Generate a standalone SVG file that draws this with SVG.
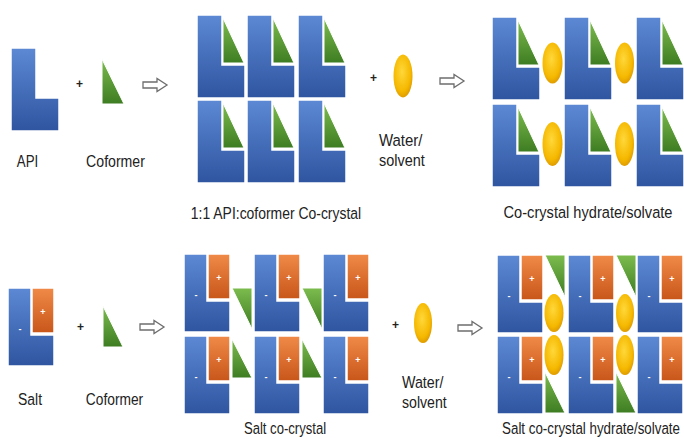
<svg xmlns="http://www.w3.org/2000/svg" xmlns:xlink="http://www.w3.org/1999/xlink" width="684" height="439" viewBox="0 0 684 439">
<style>
  .lbl { font-family: "Liberation Sans", Arial, sans-serif; font-size: 17px; fill: #222; }
  .mid { text-anchor: middle; }
  .plus { font-family: "Liberation Sans", Arial, sans-serif; font-size: 12px; fill: #222; font-weight: bold; }
  .sign { font-family: "Liberation Sans", Arial, sans-serif; font-size: 9px; fill: #fff; font-weight: bold; text-anchor: middle; }
  .blue { fill: url(#gBlue); stroke: #fff; stroke-width: 1.5; }
  .green { fill: url(#gGreen); stroke: #fff; stroke-width: 1; }
  .orange { fill: url(#gOrange); stroke: #fff; stroke-width: 1.5; }
  .drop { fill: url(#gYellow); }
  .arrow { fill: #fff; stroke: #6e6e6e; stroke-width: 1.3; }
</style>
<defs>
  <linearGradient id="gBlue" x1="0" y1="0" x2="0" y2="1">
    <stop offset="0" stop-color="#5c88d4"/>
    <stop offset="1" stop-color="#2f55a0"/>
  </linearGradient>
  <linearGradient id="gGreen" x1="0" y1="0" x2="0" y2="1">
    <stop offset="0" stop-color="#7cbc4e"/>
    <stop offset="1" stop-color="#3e7c22"/>
  </linearGradient>
  <linearGradient id="gOrange" x1="0" y1="0" x2="0" y2="1">
    <stop offset="0" stop-color="#f08a48"/>
    <stop offset="1" stop-color="#c8561a"/>
  </linearGradient>
  <radialGradient id="gYellow" cx="0.45" cy="0.4" r="0.65">
    <stop offset="0" stop-color="#ffd83a"/>
    <stop offset="0.7" stop-color="#f5b800"/>
    <stop offset="1" stop-color="#d99400"/>
  </radialGradient>
  <path id="lshape" class="blue" d="M0,0 H25 V50 H48 V83 H0 Z"/>
  <g id="cc-tile">
    <path class="blue" d="M0,0 H25 V50 H48 V83 H0 Z"/>
    <path class="green" d="M26,3 V48 H47 Z"/>
  </g>
  <g id="salt-tile">
    <path class="blue" d="M0,0 H23 V47 H46 V78 H0 Z"/>
    <rect class="orange" x="24" y="0" width="22" height="45"/>
    <text class="sign" x="12" y="44">-</text>
    <text class="sign" x="35" y="27">+</text>
  </g>
  <path id="arr" class="arrow" d="M0,-3 H14 V-6.5 L24,0 L14,6.5 V3 H0 Z"/>
</defs>

<g id="api">
  <use xlink:href="#lshape" x="11" y="48"/>
  <text class="lbl mid" transform="translate(27.5,167) scale(0.78,1)">API</text>
</g>
<g id="plus1"><text class="plus" x="76" y="88">+</text></g>
<g id="coformer-top">
  <path class="green" d="M102,59 V104 H124 Z"/>
  <text class="lbl mid" transform="translate(115.5,167) scale(0.83,1)">Coformer</text>
</g>

<g id="cocrystal">
  <use xlink:href="#cc-tile" x="197" y="15"/>
  <use xlink:href="#cc-tile" x="247" y="15"/>
  <use xlink:href="#cc-tile" x="298" y="15"/>
  <use xlink:href="#cc-tile" x="197" y="100"/>
  <use xlink:href="#cc-tile" x="247" y="100"/>
  <use xlink:href="#cc-tile" x="298" y="100"/>
  <text class="lbl mid" transform="translate(276,219) scale(0.82,1)">1:1 API:coformer Co-crystal</text>
</g>
<g id="plus2"><text class="plus" x="370" y="82">+</text></g>
<g id="water-top">
  <ellipse class="drop" cx="403" cy="76" rx="9.5" ry="21.5"/>
  <text class="lbl" transform="translate(379,146) scale(0.88,1)">Water/</text>
  <text class="lbl" transform="translate(379,166) scale(0.85,1)">solvent</text>
</g>

<g id="cocrystal-hydrate">
  <use xlink:href="#cc-tile" x="492" y="17"/>
  <use xlink:href="#cc-tile" x="564" y="17"/>
  <use xlink:href="#cc-tile" x="636" y="17"/>
  <use xlink:href="#cc-tile" x="492" y="104"/>
  <use xlink:href="#cc-tile" x="564" y="104"/>
  <use xlink:href="#cc-tile" x="636" y="104"/>
  <ellipse class="drop" cx="552.5" cy="63" rx="10" ry="20.5"/>
  <ellipse class="drop" cx="624.5" cy="63" rx="9.5" ry="20.5"/>
  <ellipse class="drop" cx="552.5" cy="144" rx="10" ry="22"/>
  <ellipse class="drop" cx="624.5" cy="144" rx="9.5" ry="22"/>
  <text class="lbl mid" transform="translate(588,218) scale(0.86,1)">Co-crystal hydrate/solvate</text>
</g>

<g id="salt">
  <use xlink:href="#salt-tile" x="8" y="288"/>
  <text class="lbl mid" transform="translate(30,405) scale(0.82,1)">Salt</text>
</g>
<g id="plus3"><text class="plus" x="77" y="331">+</text></g>
<g id="coformer-bottom">
  <path class="green" d="M103,306 V347 H123 Z"/>
  <text class="lbl mid" transform="translate(114.5,405) scale(0.81,1)">Coformer</text>
</g>

<g id="salt-cocrystal">
  <use xlink:href="#salt-tile" x="184" y="254"/>
  <use xlink:href="#salt-tile" x="254" y="254"/>
  <use xlink:href="#salt-tile" x="323" y="254"/>
  <use xlink:href="#salt-tile" x="184" y="336"/>
  <use xlink:href="#salt-tile" x="254" y="336"/>
  <use xlink:href="#salt-tile" x="323" y="336"/>
  <path class="green" d="M232,288 H252 V329 Z"/>
  <path class="green" d="M302,288 H322 V329 Z"/>
  <path class="green" d="M232,339 V378 H252 Z"/>
  <path class="green" d="M302,339 V378 H322 Z"/>
  <text class="lbl mid" transform="translate(285,434) scale(0.77,1)">Salt co-crystal</text>
</g>
<g id="plus4"><text class="plus" x="392" y="329">+</text></g>
<g id="water-bottom">
  <ellipse class="drop" cx="423" cy="323" rx="9" ry="20"/>
  <text class="lbl" transform="translate(402,388) scale(0.84,1)">Water/</text>
  <text class="lbl" transform="translate(402,408) scale(0.83,1)">solvent</text>
</g>

<g id="salt-cocrystal-hydrate">
  <use xlink:href="#salt-tile" x="497" y="255"/>
  <use xlink:href="#salt-tile" x="568" y="255"/>
  <use xlink:href="#salt-tile" x="637" y="255"/>
  <use xlink:href="#salt-tile" x="497" y="336"/>
  <use xlink:href="#salt-tile" x="568" y="336"/>
  <use xlink:href="#salt-tile" x="637" y="336"/>
  <path class="green" d="M545,255 H565 V297 Z"/>
  <path class="green" d="M616,255 H636 V297 Z"/>
  <path class="green" d="M545,372 V413 H565 Z"/>
  <path class="green" d="M616,372 V413 H636 Z"/>
  <ellipse class="drop" cx="554" cy="313" rx="9.5" ry="19"/>
  <ellipse class="drop" cx="625" cy="313" rx="9" ry="19"/>
  <ellipse class="drop" cx="554" cy="355" rx="9.5" ry="20"/>
  <ellipse class="drop" cx="625" cy="355" rx="9" ry="20"/>
  <text class="lbl mid" transform="translate(591,434) scale(0.785,1)">Salt co-crystal hydrate/solvate</text>
</g>

<g id="connectors">
  <use xlink:href="#arr" x="143" y="85"/>
  <use xlink:href="#arr" x="440" y="81"/>
  <use xlink:href="#arr" x="140" y="327"/>
  <use xlink:href="#arr" x="458" y="328"/>
</g>
</svg>
